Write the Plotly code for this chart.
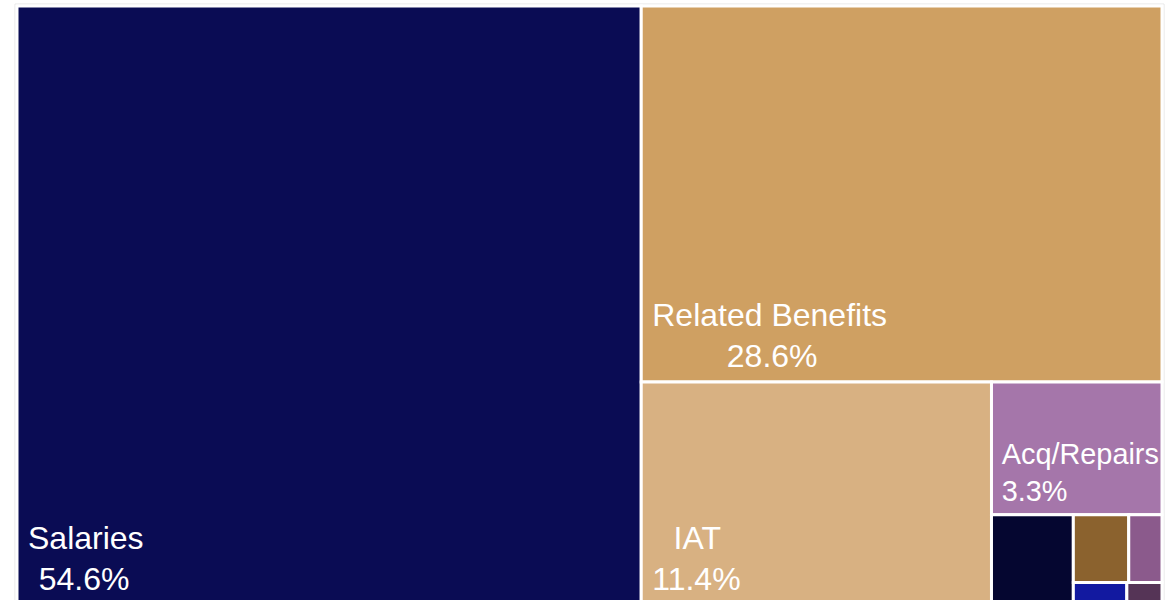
import plotly.graph_objects as go

# Budget share by spending category (percent of total)
labels = ["Salaries", "Related Benefits", "IAT", "Acq/Repairs",
          "Supplies", "Travel", "Utilities", "Equipment", "Other"]
values = [54.6, 28.6, 11.4, 3.3, 1.08, 0.55, 0.33, 0.175, 0.115]
colors = ["#0a0c54", "#cfa062", "#d8b182", "#a576aa",
          "#050630", "#8b622e", "#8b5a8c", "#1219a0", "#553456"]

ROOT = "Total"
LABEL_MIN_SHARE = 3.0      # smaller tiles stay unlabeled
CENTER_MIN_SHARE = 10.0    # large tiles get their two lines centered

# Arial / Liberation Sans advance widths (em units) for the glyphs used
ADV = {" ": .278, "%": .889, ".": .278, "/": .278, "A": .667, "B": .667,
       "I": .278, "R": .722, "S": .667, "T": .611, "a": .556, "c": .5,
       "d": .556, "e": .556, "f": .278, "i": .222, "l": .222, "n": .556,
       "p": .556, "q": .556, "r": .333, "s": .5, "t": .278}


def text_width(s):
    return sum(ADV.get(ch, .556) for ch in s)


def pad_spaces(em):
    # six-per-em spaces give ~1/6 em steps of horizontal padding
    return "\u2006" * max(0, round(em * 6))


def tile_text(label, share):
    if share < LABEL_MIN_SHARE:
        return ""
    pct = f"{share:.1f}%"
    lead = "\u2005"
    if share >= CENTER_MIN_SHARE:
        w1, w2 = text_width(label), text_width(pct)
        if w1 > w2:
            pct = pad_spaces((w1 - w2) / 2) + pct
        else:
            label = pad_spaces((w2 - w1) / 2) + label
    # a lowered hair space keeps the block clear of the tile's bottom edge
    return f"{lead}{label}<br>{lead}{pct}<sub>\u200a</sub>"


texts = [""] + [tile_text(l, v) for l, v in zip(labels, values)]

fig = go.Figure(go.Treemap(
    labels=[ROOT] + labels,
    parents=[""] + [ROOT] * len(labels),
    values=[sum(values)] + values,
    branchvalues="total",
    text=texts,
    texttemplate="%{text}",
    marker=dict(
        colors=["white"] + colors,
        line=dict(color=["#e4e4e4"] + ["white"] * len(labels),
                  width=[1] + [3] * len(labels)),
        pad=dict(t=2, l=2, r=2, b=2),
    ),
    textposition="bottom left",
    textfont=dict(family="Arial, Liberation Sans, sans-serif", size=32, color="white"),
    hoverinfo="skip",
    tiling=dict(pad=0),
    pathbar=dict(visible=False),
    sort=True,
))

fig.update_layout(
    width=1166,
    height=607,
    margin=dict(l=15, r=2, t=4, b=0),
    paper_bgcolor="white",
    showlegend=False,
)

fig.write_html(
    "out.html",
    post_script="document.documentElement.style.overflow='hidden';"
                "document.body.style.overflow='hidden';",
)
